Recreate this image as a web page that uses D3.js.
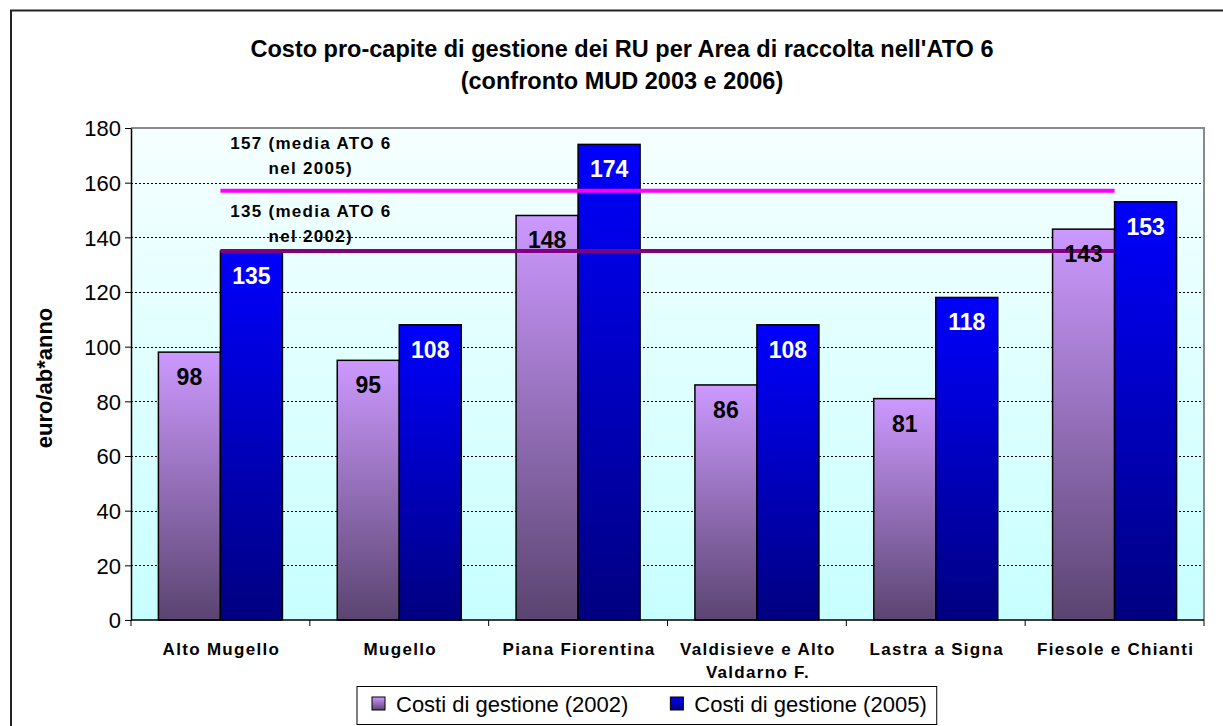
<!DOCTYPE html>
<html><head><meta charset="utf-8">
<script src="https://cdn.jsdelivr.net/npm/d3@7"></script>
<style>
html,body{margin:0;padding:0;background:#fff;}
svg{display:block;font-family:"Liberation Sans",Arial,sans-serif;}
</style></head>
<body>
<svg id="chart" width="1223" height="726"></svg>
<script>
// ---- data ----
const categories = ["Alto Mugello","Mugello","Piana Fiorentina","Valdisieve e Alto Valdarno F.","Lastra a Signa","Fiesole e Chianti"];
const categoryLines = [["Alto Mugello"],["Mugello"],["Piana Fiorentina"],["Valdisieve e Alto","Valdarno F."],["Lastra a Signa"],["Fiesole e Chianti"]];
const costi2002 = [98,95,148,86,81,143];
const costi2005 = [135,108,174,108,118,153];
const seriesNames = ["Costi di gestione (2002)","Costi di gestione (2005)"];
const media2005 = 157;
const media2002 = 135;
const mediaLabels2005 = ["157 (media ATO 6","nel 2005)"];
const mediaLabels2002 = ["135 (media ATO 6","nel 2002)"];
const yTicks = [0,20,40,60,80,100,120,140,160,180];
const titleLines = ["Costo pro-capite di gestione dei RU per Area di raccolta nell'ATO 6","(confronto MUD 2003 e 2006)"];
const yTitle = "euro/ab*anno";

// ---- layout ----
const svg = d3.select("#chart");
const plot = {left:131, right:1204, top:128, bottom:620};
const FONT = "'Liberation Sans',Arial,sans-serif";

const x = d3.scaleBand().domain(categories).range([plot.left, plot.right]).padding(0);
const inner = d3.scaleBand().domain([0,1]).range([0, x.bandwidth()]).paddingOuter(0.442).paddingInner(0);
const y = d3.scaleLinear().domain([0,180]).range([plot.bottom, plot.top]);

// defs: gradients
const defs = svg.append("defs");
function vgrad(id, top, bottom){
  const g = defs.append("linearGradient").attr("id", id).attr("x1",0).attr("y1",0).attr("x2",0).attr("y2",1);
  g.append("stop").attr("offset","0%").attr("stop-color", top);
  g.append("stop").attr("offset","100%").attr("stop-color", bottom);
}
vgrad("gBg", "#F6FFFF", "#C8FFFF");
vgrad("g2002", "#CC99FF", "#5A4470");
vgrad("g2005", "#0000FF", "#000080");
const fills = ["url(#g2002)","url(#g2005)"];

// background
svg.append("rect").attr("width",1223).attr("height",726).attr("fill","#fff");
// outer chart border
svg.append("rect").attr("x",11).attr("y",10.5).attr("width",1400).attr("height",900)
  .attr("fill","none").attr("stroke","#222").attr("stroke-width",2);

// plot area
svg.append("rect").attr("x",plot.left).attr("y",plot.top)
  .attr("width",plot.right-plot.left).attr("height",plot.bottom-plot.top)
  .attr("fill","url(#gBg)");

// gridlines
svg.append("g").selectAll("line").data(yTicks.filter(d=>d>0)).join("line")
  .attr("x1",plot.left).attr("x2",plot.right)
  .attr("y1",d=>Math.round(y(d))+0.5).attr("y2",d=>Math.round(y(d))+0.5)
  .attr("stroke","#000").attr("stroke-width",1).attr("stroke-dasharray","2,2");

// plot border top/right
svg.append("path")
  .attr("d",`M${plot.left},${plot.top} H${plot.right} V${plot.bottom}`)
  .attr("fill","none").attr("stroke","#8a8a8a").attr("stroke-width",2);

// bars
const barData = [];
categories.forEach((c,i)=>{
  [costi2002[i], costi2005[i]].forEach((v,s)=>barData.push({c, v, s}));
});
svg.append("g").selectAll("rect").data(barData).join("rect")
  .attr("x", d=>x(d.c)+inner(d.s))
  .attr("y", d=>y(d.v))
  .attr("width", inner.bandwidth())
  .attr("height", d=>y(0)-y(d.v))
  .attr("fill", d=>fills[d.s])
  .attr("stroke","#000").attr("stroke-width",1.5);

// average lines
const line = d3.line().x(d=>x(d.c)+x.bandwidth()/2).y(d=>y(d.v));
[[media2005,"#FF00FF"],[media2002,"#800080"]].forEach(([m,col])=>{
  svg.append("path").datum(categories.map(c=>({c, v:m})))
    .attr("d", line).attr("fill","none").attr("stroke",col).attr("stroke-width",4);
});

// axes
const yAxis = svg.append("g").attr("transform",`translate(${plot.left},0)`)
  .call(d3.axisLeft(y).tickValues(yTicks).tickSize(6).tickPadding(4).tickSizeOuter(0));
yAxis.select(".domain").attr("stroke","#000").attr("stroke-width",1.5);
yAxis.selectAll(".tick line").attr("stroke","#000");
yAxis.selectAll(".tick text").attr("font-family",FONT).attr("font-size",22).attr("fill","#000").attr("dy","0.36em");

const boundaries = categories.map(c=>x(c)).concat([plot.right]);
const xg = svg.append("g");
xg.append("line").attr("x1",plot.left).attr("x2",plot.right).attr("y1",plot.bottom).attr("y2",plot.bottom)
  .attr("stroke","#000").attr("stroke-width",1.5);
xg.selectAll("line.tk").data(boundaries).join("line").attr("class","tk")
  .attr("x1",d=>d).attr("x2",d=>d).attr("y1",plot.bottom).attr("y2",plot.bottom+6)
  .attr("stroke","#000");

// category labels
categories.forEach((c,i)=>{
  const t = svg.append("text").attr("x", x(c)+x.bandwidth()/2).attr("y", 655)
    .attr("text-anchor","middle").attr("font-family",FONT).attr("font-weight","bold")
    .attr("font-size",17).attr("letter-spacing",1.3).attr("fill","#000");
  categoryLines[i].forEach((ln,j)=>{
    t.append("tspan").attr("x", x(c)+x.bandwidth()/2+1).attr("dy", j===0?0:23).text(ln);
  });
});

// bar value labels
svg.append("g").selectAll("text").data(barData).join("text")
  .attr("x", d=>x(d.c)+inner(d.s)+inner.bandwidth()/2)
  .attr("y", d=>y(d.v)+33)
  .attr("text-anchor","middle").attr("font-family",FONT).attr("font-weight","bold")
  .attr("font-size",23).attr("fill", d=>d.s===0?"#000":"#fff")
  .text(d=>d.v);

// average labels
function avgLabel(lines, baseY){
  const t = svg.append("text").attr("x", x(categories[1])+1).attr("y", baseY)
    .attr("text-anchor","middle").attr("font-family",FONT).attr("font-weight","bold")
    .attr("font-size",17).attr("letter-spacing",1.3).attr("fill","#000");
  lines.forEach((ln,j)=>t.append("tspan").attr("x", x(categories[1])+1).attr("dy", j===0?0:25).text(ln));
}
avgLabel(mediaLabels2005, y(media2005)-42);
avgLabel(mediaLabels2002, y(media2002)-34);

// title
const tt = svg.append("text").attr("x",622).attr("y",57).attr("text-anchor","middle")
  .attr("font-family",FONT).attr("font-weight","bold").attr("font-size",23.5).attr("fill","#000");
titleLines.forEach((ln,j)=>tt.append("tspan").attr("x",622).attr("dy", j===0?0:32).text(ln));

// y title
svg.append("text").attr("transform",`translate(52,378) rotate(-90)`).attr("text-anchor","middle")
  .attr("font-family",FONT).attr("font-weight","bold").attr("font-size",22).attr("fill","#000")
  .text(yTitle);

// legend
const lg = svg.append("g");
const box = lg.append("rect").attr("x",357).attr("y",686.5).attr("height",38).attr("fill","#fff")
  .attr("stroke","#000").attr("stroke-width",1);
let cx = 372;
seriesNames.forEach((n,i)=>{
  lg.append("rect").attr("x",cx).attr("y",697).attr("width",13).attr("height",13)
    .attr("fill",fills[i]).attr("stroke","#000").attr("stroke-width",1);
  const t = lg.append("text").attr("x",cx+24).attr("y",712).attr("font-family",FONT)
    .attr("font-size",22).attr("fill","#000").text(n);
  cx = cx + 24 + t.node().getComputedTextLength() + 42;
});
box.attr("width", cx - 42 + 10 - 357);
</script>
</body></html>
